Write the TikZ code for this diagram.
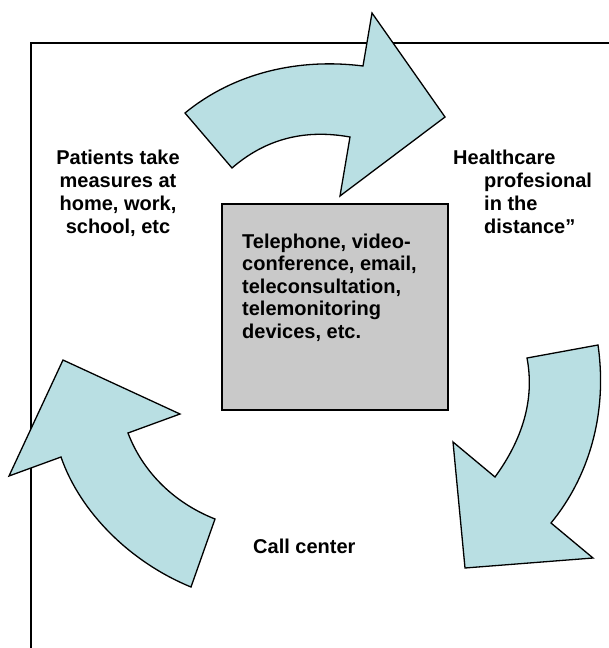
\documentclass[tikz,border=0pt]{standalone}
\usepackage{fontspec}
\setmainfont{Liberation Sans}
\definecolor{arrowfill}{HTML}{B9DFE3}
\definecolor{boxfill}{HTML}{C9C9C9}
\begin{document}
\begin{tikzpicture}[x=1pt,y=-1pt,
  bigarrow/.style={fill=arrowfill,draw=black,line width=1.3pt,line join=miter},
  lbl/.style={inner sep=0pt,font=\fontsize{20}{23}\selectfont\bfseries},
  boxlbl/.style={inner sep=0pt,font=\fontsize{20}{22.5}\selectfont\bfseries}]
\useasboundingbox (0,0) rectangle (609,648);
% frame (only top and left edges visible)
\coordinate (fbl) at (31,648);
\coordinate (ftl) at (31,43);
\coordinate (ftr) at (609,43);
\draw[line width=1.5pt] (fbl) -- (ftl) -- (ftr);
% top arrow
\draw[bigarrow] (185,113) .. controls (235,72) and (300,58) .. (363,66)
  -- (372,13) -- (445,117) -- (340,196) -- (350,137)
  .. controls (300,128) and (262,142) .. (232,168) -- cycle;
% right arrow
\draw[bigarrow] (598,345) -- (527,358)
  .. controls (535,400) and (522,440) .. (495,477)
  -- (453,442) -- (465,568) -- (593,558) -- (551,523)
  .. controls (588,478) and (608,415) .. (598,345) -- cycle;
% left arrow
\draw[bigarrow] (63,360) -- (180,414) -- (128,433)
  .. controls (142,470) and (172,502) .. (215,519)
  -- (191,587)
  .. controls (130,562) and (80,512) .. (61,457)
  -- (9,476) -- cycle;
% center box
\node[draw=black,line width=1.5pt,fill=boxfill,minimum width=226pt,minimum height=206pt,anchor=north west,inner sep=0pt] (box) at (221,203) {};
\node[boxlbl,anchor=north west,align=left] (boxtext) at (242,233.7)
  {Telephone, video-\\conference, email,\\teleconsultation,\\telemonitoring\\devices, etc.};
% labels
\node[lbl,anchor=north,align=center] (patients) at (118,149.7)
  {Patients take\\measures at\\home, work,\\school, etc};
\node[lbl,anchor=north west,align=left] (health) at (453,149.7)
  {Healthcare\\\hspace*{31pt}profesional\\\hspace*{31pt}in the\\\hspace*{31pt}distance”};
\node[lbl,anchor=base west] (call) at (253,553) {Call center};
\end{tikzpicture}
\end{document}
